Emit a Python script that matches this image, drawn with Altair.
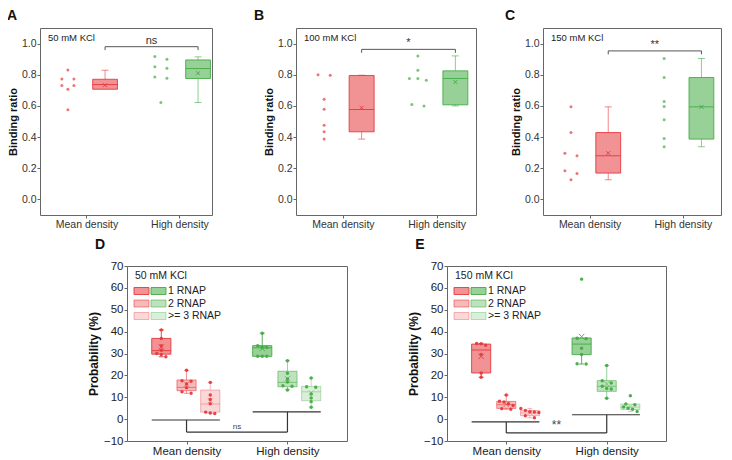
import altair as alt
import pandas as pd

# ------------------------------------------------------------------ data
CATEGORIES = ["Mean density", "High density"]
CAT_POS = [1, 2]

TOP_LETTERS = ["A", "B", "C"]
TOP_SALT = ["50 mM KCl", "100 mM KCl", "150 mM KCl"]
TOP_SIG = ["ns", "*", "**"]
TOP_BRACKET = [0.980, 0.963, 0.953]
TOP_Y_TICKS = [0.0, 0.2, 0.4, 0.6, 0.8, 1.0]

A_MEAN_DOTS = [0.830, 0.772, 0.772, 0.731, 0.731, 0.707, 0.576]
A_HIGH_DOTS = [0.917, 0.899, 0.851, 0.842, 0.786, 0.778, 0.622]
B_MEAN_DOTS = [0.800, 0.797, 0.643, 0.579, 0.476, 0.434, 0.387]
B_HIGH_DOTS = [0.921, 0.829, 0.776, 0.776, 0.765, 0.609, 0.600]
C_MEAN_DOTS = [0.594, 0.429, 0.297, 0.280, 0.184, 0.167, 0.126]
C_HIGH_DOTS = [0.904, 0.782, 0.628, 0.596, 0.511, 0.391, 0.338]

# box statistics: q1, median, q3, lower whisker, upper whisker, mean
A_MEAN_BOX = [0.707, 0.737, 0.771, 0.707, 0.829, 0.733]
A_HIGH_BOX = [0.776, 0.840, 0.895, 0.622, 0.915, 0.810]
B_MEAN_BOX = [0.434, 0.577, 0.795, 0.387, 0.797, 0.588]
B_HIGH_BOX = [0.607, 0.776, 0.825, 0.600, 0.921, 0.754]
C_MEAN_BOX = [0.169, 0.280, 0.429, 0.126, 0.594, 0.297]
C_HIGH_BOX = [0.387, 0.594, 0.782, 0.338, 0.904, 0.594]

BOTTOM_LETTERS = ["D", "E"]
BOTTOM_SERIES = ["1 RNAP", "2 RNAP", ">= 3 RNAP"]
BOTTOM_SALT = ["50 mM KCl", "150 mM KCl"]
BOTTOM_SIG = ["ns", "**"]
BOTTOM_Y_TICKS = [-10, 0, 10, 20, 30, 40, 50, 60, 70]
# bracket levels: left bar, bottom bar, right bar
D_BRACKET = [-0.4, -5.9, 3.3]
E_BRACKET = [-1.3, -6.3, 2.0]

D_MEAN_DOTS = [
    [40.8, 36.9, 33.5, 31.5, 30.0, 29.5, 28.5],
    [22.3, 17.5, 17.3, 16.1, 14.4, 12.5, 11.8],
    [16.8, 11.0, 9.0, 7.0, 3.2, 2.8, 2.6],
]
D_HIGH_DOTS = [
    [39.3, 33.5, 32.8, 32.8, 28.7, 28.7, 28.7],
    [26.7, 21.0, 18.3, 17.0, 15.3, 15.0, 13.3],
    [18.8, 14.8, 14.6, 11.5, 9.7, 8.0, 5.4],
]
D_MEAN_BOX = [
    [29.7, 31.3, 36.9, 28.5, 40.8, 33.0],
    [13.0, 14.5, 17.9, 11.8, 22.3, 16.0],
    [3.2, 6.9, 13.3, 2.6, 16.8, 8.5],
]
D_HIGH_BOX = [
    [28.7, 32.6, 33.6, 28.7, 39.3, 32.3],
    [14.8, 16.8, 21.9, 13.5, 26.7, 18.5],
    [8.4, 12.5, 15.0, 5.4, 18.8, 12.0],
]
E_MEAN_DOTS = [
    [34.6, 34.5, 33.8, 29.5, 21.1, 19.1],
    [11.0, 8.2, 7.8, 7.0, 6.2, 4.8, 4.5],
    [4.9, 4.0, 3.4, 3.3, 3.0, 1.5, 0.6],
]
E_HIGH_DOTS = [
    [64.0, 37.0, 36.8, 32.4, 29.5, 25.3, 25.2],
    [24.5, 17.5, 16.5, 15.0, 14.0, 13.8, 9.5],
    [10.7, 6.9, 6.6, 5.5, 5.0, 4.5, 3.5],
]
E_MEAN_BOX = [
    [21.1, 31.6, 34.3, 19.1, 34.6, 28.7],
    [4.9, 6.6, 8.1, 4.5, 11.0, 6.8],
    [1.6, 2.8, 3.9, 0.6, 4.9, 3.0],
]
E_HIGH_BOX = [
    [29.5, 34.3, 37.1, 25.2, 37.1, 37.7],
    [12.7, 15.0, 17.6, 9.5, 24.5, 16.1],
    [4.4, 5.5, 6.9, 3.5, 6.9, 5.8],
]

# ------------------------------------------------------------------ style
FONT = "Liberation Sans"
RED = "#e63a3d"
GREEN = "#44ab44"
FRAME = "#666666"
XSHAPE = "M-1,-1L1,1M-1,1L1,-1"
LABEL_EXPR = "datum.value == %d ? '%s' : '%s'" % (CAT_POS[0], CATEGORIES[0], CATEGORIES[1])

FILL_OP = [0.55, 0.35, 0.2]
STROKE_OP = [0.9, 0.55, 0.35]


def jitter(values, tol, step2, step3):
    order = sorted(range(len(values)), key=lambda i: -values[i])
    clusters = []
    for i in order:
        if clusters and abs(values[clusters[-1][-1]] - values[i]) <= tol:
            clusters[-1].append(i)
        else:
            clusters.append([i])
    off = [0.0] * len(values)
    for c in clusters:
        n = len(c)
        if n == 1:
            continue
        step = step2 if n == 2 else step3
        for k, i in enumerate(c):
            off[i] = (k - (n - 1) / 2) * step
    return off


def box_layers(X, Y, cx, half, cap, stats, color, fill_op, stroke_op, whisk_op, sw, mean_size):
    q1, med, q3, lo, hi, mn = stats
    df = pd.DataFrame({"cx": [cx], "l": [cx - half], "r": [cx + half],
                       "cl": [cx - cap], "cr": [cx + cap],
                       "q1": [q1], "med": [med], "q3": [q3],
                       "lo": [lo], "hi": [hi], "mn": [mn]})
    b = alt.Chart(df)
    out = []
    wk = dict(color=color, opacity=whisk_op, strokeWidth=sw)
    if hi > q3:
        out.append(b.mark_rule(**wk).encode(x=X("cx"), y=Y("q3"), y2=alt.Y2("hi")))
        out.append(b.mark_rule(**wk).encode(x=X("cl"), x2=alt.X2("cr"), y=Y("hi")))
    if lo < q1:
        out.append(b.mark_rule(**wk).encode(x=X("cx"), y=Y("lo"), y2=alt.Y2("q1")))
        out.append(b.mark_rule(**wk).encode(x=X("cl"), x2=alt.X2("cr"), y=Y("lo")))
    out.append(b.mark_rect(fill=color, fillOpacity=fill_op, stroke=color,
                           strokeOpacity=stroke_op, strokeWidth=sw)
               .encode(x=X("l"), x2=alt.X2("r"), y=Y("q1"), y2=alt.Y2("q3")))
    out.append(b.mark_rule(color=color, opacity=stroke_op, strokeWidth=sw)
               .encode(x=X("l"), x2=alt.X2("r"), y=Y("med")))
    out.append(b.mark_point(shape=XSHAPE, size=mean_size, color=color, filled=False,
                            strokeWidth=1, opacity=stroke_op)
               .encode(x=X("cx"), y=Y("mn")))
    return out


def text_layer(txt, x, y, size, weight="normal", align="left", baseline="middle", color="#111"):
    return alt.Chart(pd.DataFrame({"t": [txt]})).mark_text(
        align=align, baseline=baseline, fontSize=size, fontWeight=weight, color=color, font=FONT
    ).encode(text="t:N", x=alt.value(x), y=alt.value(y))


def top_panel(i, mean_dots, high_dots, mean_box, high_box, width, xmax, letter_dx):
    xs = alt.Scale(domain=[0.5, xmax], nice=False, zero=False)
    ys = alt.Scale(domain=[-0.1, 1.1], nice=False, zero=False)
    xa = alt.Axis(values=CAT_POS, labelExpr=LABEL_EXPR, title=None, labelFontSize=10.5,
                  tickSize=3, labelPadding=1, domain=False, grid=False, labelFlush=False,
                  labelColor="#333", tickColor=FRAME)
    ya = alt.Axis(values=TOP_Y_TICKS, format=".1f", title="Binding ratio", titleFontSize=11,
                  titleFontWeight="bold", titleColor="#111", labelFontSize=10.5, titlePadding=3,
                  labelPadding=1, tickSize=3, domain=False, grid=False, labelFlush=False,
                  labelColor="#333", tickColor=FRAME)

    def X(f):
        return alt.X(f"{f}:Q", scale=xs, axis=xa)

    def Y(f):
        return alt.Y(f"{f}:Q", scale=ys, axis=ya)

    layers = []
    for g, (dots, box, col) in enumerate([(mean_dots, mean_box, RED), (high_dots, high_box, GREEN)]):
        cx = CAT_POS[g] + 0.2
        layers += box_layers(X, Y, cx, 0.133, 0.038, box, col, 0.55, 0.9, 0.6, 1, 16)
        off = jitter(dots, 0.02, 0.13, 0.09)
        ddf = pd.DataFrame({"x": [CAT_POS[g] - 0.2 + o for o in off], "v": dots})
        layers.append(alt.Chart(ddf).mark_circle(size=9, color=col, opacity=0.7)
                      .encode(x=X("x"), y=Y("v")))
    b = TOP_BRACKET[i]
    x1, x2 = CAT_POS[0] + 0.2, CAT_POS[1] + 0.2
    seg = pd.DataFrame({"x": [x1, x1, x2], "x2": [x2, x1, x2],
                        "y": [b, b, b], "y2": [b, b - 0.022, b - 0.022]})
    layers.append(alt.Chart(seg).mark_rule(color="#555", strokeWidth=1)
                  .encode(x=X("x"), x2=alt.X2("x2"), y=Y("y"), y2=alt.Y2("y2")))
    sig = pd.DataFrame({"x": [(x1 + x2) / 2], "y": [b], "t": [TOP_SIG[i]]})
    layers.append(alt.Chart(sig).mark_text(baseline="bottom", dy=-1, fontSize=11, color="#333", font=FONT)
                  .encode(x=X("x"), y=Y("y"), text="t:N"))
    layers.append(text_layer(TOP_SALT[i], 8, 10, 9.5, color="#222"))
    layers.append(text_layer(TOP_LETTERS[i], letter_dx, -12, 14, weight="bold", align="center"))
    return alt.layer(*layers).properties(width=width, height=187)


OFFS = [-0.25, 0.0, 0.235]
HALF = 0.095


def bottom_panel(i, mean_dots, high_dots, mean_box, high_box, bracket, width):
    xs = alt.Scale(domain=[0.41, 2.59], nice=False, zero=False)
    ys = alt.Scale(domain=[-10, 70], nice=False, zero=False)
    xa = alt.Axis(values=CAT_POS, labelExpr=LABEL_EXPR, title=None, labelFontSize=11.5,
                  tickSize=3, labelPadding=1, domain=False, grid=False, labelFlush=False,
                  labelColor="#222", tickColor=FRAME)
    ya = alt.Axis(values=BOTTOM_Y_TICKS, title="Probability (%)", titleFontSize=12,
                  titleFontWeight="bold", titleColor="#111", labelFontSize=11.5, titlePadding=3,
                  labelPadding=1, tickSize=3, domain=False, grid=False, labelFlush=False,
                  labelColor="#222", tickColor=FRAME)

    def X(f):
        return alt.X(f"{f}:Q", scale=xs, axis=xa)

    def Y(f):
        return alt.Y(f"{f}:Q", scale=ys, axis=ya)

    layers = []
    for g, (dots_g, box_g, col) in enumerate([(mean_dots, mean_box, RED), (high_dots, high_box, GREEN)]):
        for s in range(3):
            cx = CAT_POS[g] + OFFS[s]
            layers += box_layers(X, Y, cx, HALF, 0.025, box_g[s], col, FILL_OP[s], STROKE_OP[s],
                                 STROKE_OP[s], 1, 30)
            off = jitter(dots_g[s], 1.0, 0.09, 0.045)
            ddf = pd.DataFrame({"x": [cx + o for o in off], "v": dots_g[s]})
            layers.append(alt.Chart(ddf).mark_circle(size=12, color=col, opacity=0.95)
                          .encode(x=X("x"), y=Y("v")))
    lv, bv, rv = bracket
    L1, R1 = CAT_POS[0] + OFFS[0] - HALF, CAT_POS[0] + OFFS[2] + HALF
    L2, R2 = CAT_POS[1] + OFFS[0] - HALF, CAT_POS[1] + OFFS[2] + HALF
    seg = pd.DataFrame({"x": [L1, CAT_POS[0], CAT_POS[0], CAT_POS[1], L2],
                        "x2": [R1, CAT_POS[0], CAT_POS[1], CAT_POS[1], R2],
                        "y": [lv, lv, bv, bv, rv],
                        "y2": [lv, bv, bv, rv, rv]})
    layers.append(alt.Chart(seg).mark_rule(color="#333", strokeWidth=1.2)
                  .encode(x=X("x"), x2=alt.X2("x2"), y=Y("y"), y2=alt.Y2("y2")))
    sig = pd.DataFrame({"x": [(CAT_POS[0] + CAT_POS[1]) / 2], "y": [bv], "t": [BOTTOM_SIG[i]]})
    layers.append(alt.Chart(sig).mark_text(baseline="bottom", dy=-1,
                                           fontSize=8 if BOTTOM_SIG[i] == "ns" else 12,
                                           color="#444", font=FONT)
                  .encode(x=X("x"), y=Y("y"), text="t:N"))
    # legend
    layers.append(text_layer(BOTTOM_SALT[i], 8, 10, 10.5, color="#222"))
    one = pd.DataFrame({"a": [0]})
    for s, name in enumerate(BOTTOM_SERIES):
        yc = 25 + 12.5 * s
        for k, col in enumerate([RED, GREEN]):
            x0 = 7 + 17 * k
            layers.append(alt.Chart(one).mark_rect(fill=col, fillOpacity=FILL_OP[s], stroke=col,
                                                   strokeOpacity=STROKE_OP[s], strokeWidth=1)
                          .encode(x=alt.value(x0), x2=alt.value(x0 + 15),
                                  y=alt.value(yc - 3.5), y2=alt.value(yc + 3.5)))
        layers.append(text_layer(name, 41, yc, 10.5, color="#222"))
    layers.append(text_layer(BOTTOM_LETTERS[i], -27, -21.5, 14, weight="bold", align="center"))
    return alt.layer(*layers).properties(width=width, height=175)


def spacer(width, height):
    return alt.Chart(pd.DataFrame({"a": [0]})).mark_rule(opacity=0).encode(
        x=alt.value(0), x2=alt.value(width), y=alt.value(0)
    ).properties(width=width, height=height, view=alt.ViewBackground(strokeOpacity=0))


pA = top_panel(0, A_MEAN_DOTS, A_HIGH_DOTS, A_MEAN_BOX, A_HIGH_BOX, 172, 2.35, -28)
pB = top_panel(1, B_MEAN_DOTS, B_HIGH_DOTS, B_MEAN_BOX, B_HIGH_BOX, 180, 2.42, -37)
pC = top_panel(2, C_MEAN_DOTS, C_HIGH_DOTS, C_MEAN_BOX, C_HIGH_BOX, 178, 2.41, -33)
pD = bottom_panel(0, D_MEAN_DOTS, D_HIGH_DOTS, D_MEAN_BOX, D_HIGH_BOX, D_BRACKET, 220)
pE = bottom_panel(1, E_MEAN_DOTS, E_HIGH_DOTS, E_MEAN_BOX, E_HIGH_BOX, E_BRACKET, 219)

top = alt.hconcat(pA, spacer(84, 187), pB, spacer(67, 187), pC, spacing=0, bounds="flush")
bottom = alt.hconcat(spacer(87, 175), pD, spacer(100, 175), pE, spacing=0, bounds="flush")

chart = alt.vconcat(top, bottom, spacing=7).properties(
    padding={"left": -2, "top": 0, "right": 0, "bottom": 0}
).configure(font=FONT).configure_view(stroke=FRAME, strokeWidth=1)

chart.save("out.html", embed_options={"renderer": "svg", "actions": False})
